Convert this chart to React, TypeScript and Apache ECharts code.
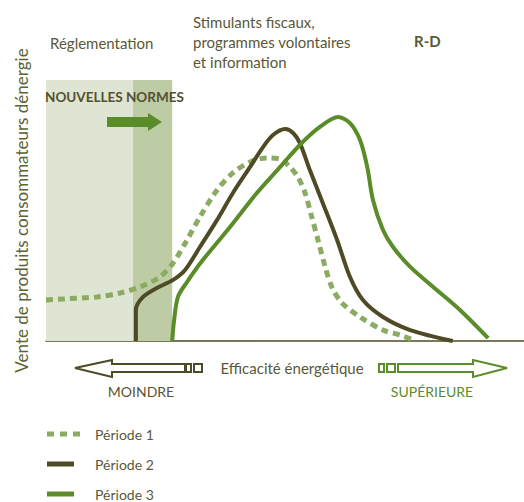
import React, { useEffect, useRef } from "react";
import * as echarts from "echarts";

// Energy efficiency (x, 0-100) vs sales (y, 0-100)
const period1: [number, number][] = [
  [0, 15.7], [3.6, 16.1], [10.7, 16.9], [15.5, 18.4], [19.7, 20.7], [23.8, 24.5],
  [26.6, 29.9], [29.5, 38.7], [32.2, 47.5], [35.8, 57.9], [39.1, 64.4], [42.7, 68.6],
  [46.2, 70.1], [49.0, 69.7], [51.0, 66.7], [52.7, 62.8], [54.2, 56.7], [55.6, 47.5],
  [56.9, 38.7], [58.4, 28.4], [59.8, 20.7], [61.9, 14.6], [65.7, 9.2], [70.5, 4.2],
  [74.1, 2.3], [76.8, 0.4],
];
const period2: [number, number][] = [
  [18.8, 0], [18.8, 11.9], [20.3, 16.9], [23.2, 20.3], [26.6, 23.4], [29.1, 27.2],
  [32.2, 36.0], [35.8, 46.4], [39.1, 56.7], [42.7, 66.7], [45.4, 74.3], [47.5, 78.9],
  [50.0, 81.2], [51.7, 79.7], [53.1, 75.9], [55.2, 65.5], [57.9, 52.9], [60.9, 38.7],
  [63.6, 24.5], [66.3, 15.7], [70.5, 9.2], [76.2, 4.2], [85.1, 0],
];
const period3: [number, number][] = [
  [26.4, 0], [26.8, 8.0], [27.6, 16.9], [29.5, 22.6], [32.8, 31.0], [38.5, 43.7],
  [44.1, 56.7], [49.0, 66.7], [53.1, 75.1], [57.3, 82.0], [61.1, 85.8], [63.6, 83.5],
  [65.7, 77.0], [67.2, 66.7], [68.4, 54.0], [70.5, 42.5], [72.6, 36.0], [76.2, 28.4],
  [81.0, 20.7], [86.6, 11.9], [92.5, 1.1],
];
const seriesNames = ["Période 1", "Période 2", "Période 3"];
// Policy zones on the efficiency axis
const regulationZone = [0, 18.2];
const newStandardsZone = [18.2, 26.4];

const yAxisTitle = "Vente de produits consommateurs dénergie";
const xAxisTitle = "Efficacité énergétique";
const zoneLabels = ["Réglementation", "Stimulants fiscaux,\nprogrammes volontaires\net information", "R-D"];
const standardsLabel = "NOUVELLES NORMES";
const lowLabel = "MOINDRE";
const highLabel = "SUPÉRIEURE";

const C_TEXT = "#5a5838";
const C_DARK = "#4e4a25";
const C_GREEN = "#5a8c29";
const C_DASH = "#8cab62";
const FONT = "Lato, 'Noto Sans', sans-serif";

export default function App() {
  const ref = useRef<HTMLDivElement>(null);
  useEffect(() => {
    if (!ref.current) return;
    const chart = echarts.init(ref.current, null, { renderer: "svg" });
    const txt = (x: number, y: number, text: string, o: any = {}) => ({
      type: "text",
      x,
      y,
      z: 100,
      style: {
        text,
        fill: o.fill || C_TEXT,
        fontSize: o.fontSize || 15,
        fontWeight: o.fontWeight || "normal",
        fontFamily: FONT,
        align: o.align || "left",
        verticalAlign: "middle",
        lineHeight: o.lineHeight || 20,
      },
    });
    const legendRows = [434, 464, 494];
    chart.setOption({
      animation: false,
      grid: { left: 46, right: 0, top: 80, bottom: 161, outerBoundsMode: "none", containLabel: false },
      xAxis: {
        type: "value",
        min: 0,
        max: 100,
        axisLine: { show: true, lineStyle: { color: C_DARK, width: 1.5 } },
        axisTick: { show: false },
        axisLabel: { show: false },
        splitLine: { show: false },
      },
      yAxis: {
        type: "value",
        min: 0,
        max: 100,
        name: yAxisTitle,
        nameLocation: "middle",
        nameGap: 16,
        nameRotate: 90,
        nameTextStyle: { color: "#5b6432", fontSize: 17, fontFamily: FONT },
        axisLine: { show: false },
        axisTick: { show: false },
        axisLabel: { show: false },
        splitLine: { show: false },
      },
      series: [
        {
          type: "line",
          data: [],
          z: 1,
          silent: true,
          markArea: {
            silent: true,
            data: [
              [
                { xAxis: regulationZone[0], yAxis: 0, itemStyle: { color: "#dfe5d3" } },
                { xAxis: regulationZone[1], yAxis: 100 },
              ],
              [
                { xAxis: newStandardsZone[0], yAxis: 0, itemStyle: { color: "#bdcca5" } },
                { xAxis: newStandardsZone[1], yAxis: 100 },
              ],
            ],
          },
        },
        {
          name: seriesNames[0],
          type: "line",
          data: period1,
          z: 3,
          smooth: 0.3,
          showSymbol: false,
          lineStyle: { color: C_DASH, width: 5, type: [7, 5], cap: "butt" },
        },
        {
          name: seriesNames[1],
          type: "line",
          data: period2,
          z: 4,
          smooth: 0.3,
          showSymbol: false,
          lineStyle: { color: C_DARK, width: 4 },
        },
        {
          name: seriesNames[2],
          type: "line",
          data: period3,
          z: 5,
          smooth: 0.3,
          showSymbol: false,
          lineStyle: { color: C_GREEN, width: 4 },
        },
      ],
      graphic: [
        txt(50, 43, zoneLabels[0]),
        txt(193, 42, zoneLabels[1]),
        txt(414, 41, zoneLabels[2], { fontWeight: "bold" }),
        txt(45, 97, standardsLabel, { fontWeight: "bold", fontSize: 13.5, fill: "#545031" }),
        // green arrow for new standards
        { type: "rect", z: 100, shape: { x: 107, y: 117, width: 42, height: 10 }, style: { fill: C_GREEN } },
        { type: "polygon", z: 100, shape: { points: [[148, 113], [162, 122], [148, 131]] }, style: { fill: C_GREEN } },
        // hollow left arrow (lower efficiency)
        {
          type: "polygon",
          z: 100,
          shape: { points: [[75, 368], [112, 360], [112, 364], [185, 364], [185, 372], [112, 372], [112, 377]] },
          style: { fill: "#fff", stroke: C_DARK, lineWidth: 2 },
        },
        { type: "rect", z: 100, shape: { x: 186, y: 364, width: 5, height: 8 }, style: { fill: "#fff", stroke: C_DARK, lineWidth: 2 } },
        { type: "rect", z: 100, shape: { x: 194, y: 364, width: 8, height: 8 }, style: { fill: "#fff", stroke: C_DARK, lineWidth: 2 } },
        // hollow right arrow (higher efficiency)
        { type: "rect", z: 100, shape: { x: 379, y: 364, width: 5, height: 8 }, style: { fill: "#fff", stroke: C_GREEN, lineWidth: 2 } },
        { type: "rect", z: 100, shape: { x: 387, y: 364, width: 8, height: 8 }, style: { fill: "#fff", stroke: C_GREEN, lineWidth: 2 } },
        {
          type: "polygon",
          z: 100,
          shape: { points: [[507, 368], [473, 360], [473, 364], [398, 364], [398, 372], [473, 372], [473, 377]] },
          style: { fill: "#fff", stroke: C_GREEN, lineWidth: 2 },
        },
        txt(292, 368, xAxisTitle, { align: "center" }),
        txt(141, 391, lowLabel, { align: "center", fill: "#5a5430", fontSize: 14 }),
        txt(432, 391, highLabel, { align: "center", fill: C_GREEN, fontSize: 14 }),
        // legend
        {
          type: "line",
          z: 100,
          shape: { x1: 47, y1: legendRows[0], x2: 82, y2: legendRows[0] },
          style: { stroke: C_DASH, lineWidth: 5, lineDash: [7, 6] },
        },
        { type: "line", z: 100, shape: { x1: 47, y1: legendRows[1], x2: 74, y2: legendRows[1] }, style: { stroke: C_DARK, lineWidth: 5 } },
        { type: "line", z: 100, shape: { x1: 47, y1: legendRows[2], x2: 74, y2: legendRows[2] }, style: { stroke: C_GREEN, lineWidth: 5 } },
        txt(95, legendRows[0], seriesNames[0], { fontSize: 14 }),
        txt(95, legendRows[1], seriesNames[1], { fontSize: 14 }),
        txt(95, legendRows[2], seriesNames[2], { fontSize: 14 }),
      ],
    });
    return () => chart.dispose();
  }, []);
  return <div ref={ref} style={{ width: 524, height: 502, position: "absolute", left: 0, top: 0 }} />;
}
